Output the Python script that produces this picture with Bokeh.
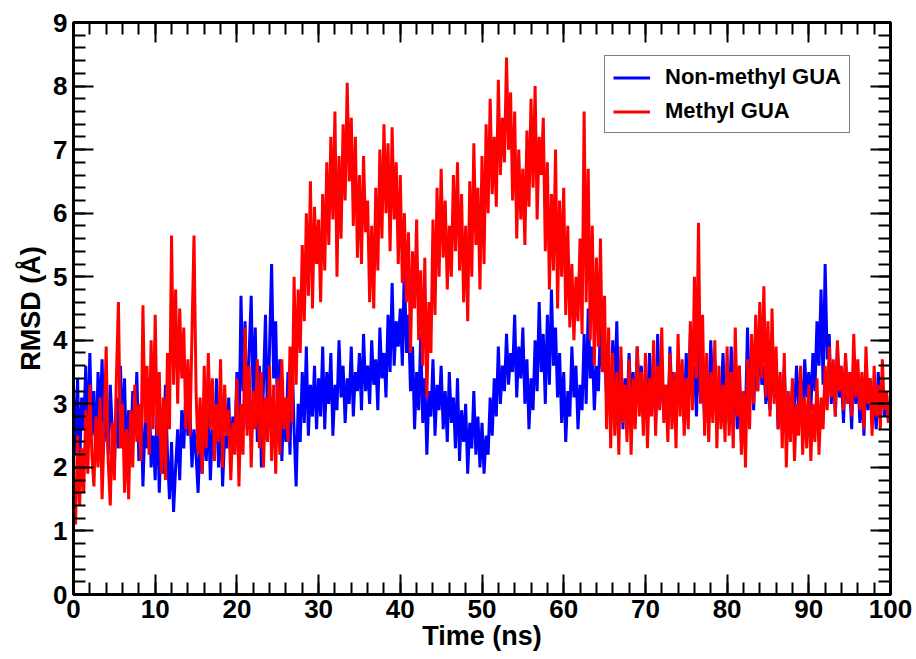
import numpy as np
from bokeh.plotting import figure
from bokeh.models import LinearAxis, SingleIntervalTicker, Legend, LegendItem, Range1d, CustomLabelingPolicy
from bokeh.embed import file_html
from bokeh.resources import INLINE

# Time grid (ns), sampled every 0.25 ns
time_ns = [i * 0.25 for i in range(401)]

# RMSD (Å), Non-methyl GUA (0.25 ns steps)
rmsd_nonmethyl = [
    3.3, 2.2, 3.4, 2.0, 3.1, 2.6, 3.6, 2.3, 3.8, 2.5, 3.2, 2.1, 3.5, 2.8, 3.7, 2.4, 3.0, 2.2, 3.3, 2.6,
    2.0, 3.1, 2.3, 3.6, 2.5, 3.4, 1.9, 2.9, 2.2, 3.2, 2.6, 3.5, 2.1, 3.0, 1.7, 2.7, 2.3, 3.4, 2.0, 2.5,
    1.8, 3.0, 1.6, 2.6, 1.9, 3.3, 2.2, 1.5, 2.4, 1.3, 2.0, 2.6, 1.8, 2.9, 2.3, 3.2, 2.5, 2.9, 2.0, 2.6,
    2.2, 1.6, 2.5, 1.9, 2.8, 2.1, 3.0, 1.8, 2.6, 2.2, 3.4, 2.0, 2.9, 1.7, 2.5, 2.3, 3.1, 2.1, 2.8, 2.4,
    3.5, 2.3, 4.7, 3.2, 4.3, 2.6, 3.8, 4.7, 3.0, 4.2, 2.4, 3.6, 2.0, 3.3, 4.4, 2.7, 3.9, 5.2, 3.4, 4.3,
    2.6, 3.7, 2.1, 3.0, 2.4, 3.5, 2.2, 3.8, 2.6, 1.7, 3.0, 2.4, 3.5, 2.7, 3.9, 2.5, 3.3, 2.8, 3.6, 2.6,
    3.4, 2.8, 3.9, 2.6, 3.5, 3.0, 3.8, 2.5, 3.3, 2.9, 4.0, 3.1, 3.6, 2.7, 3.4, 3.0, 3.9, 2.8, 3.5, 3.2,
    3.8, 2.9, 4.1, 3.2, 3.6, 3.0, 4.0, 3.3, 3.7, 2.9, 4.2, 3.4, 3.8, 3.1, 4.4, 3.5, 4.9, 3.6, 4.3, 3.9,
    4.5, 3.6, 5.2, 3.8, 4.4, 3.2, 3.9, 2.6, 3.5, 2.9, 4.1, 2.7, 3.4, 2.2, 3.2, 2.8, 3.7, 2.5, 3.3, 2.9,
    3.6, 2.6, 3.2, 2.4, 3.5, 2.7, 3.1, 2.3, 3.4, 2.1, 2.9, 2.4, 3.0, 1.9, 2.7, 2.3, 3.2, 2.2, 2.8, 2.0,
    2.7, 1.9, 2.5, 2.2, 3.1, 2.5, 3.4, 2.8, 3.9, 3.0, 3.6, 3.2, 4.1, 3.3, 3.8, 3.5, 4.4, 3.1, 3.9, 3.4,
    4.2, 3.0, 3.7, 2.6, 3.4, 2.9, 4.0, 3.2, 4.6, 3.5, 4.1, 3.0, 4.4, 3.3, 4.8, 3.6, 4.2, 3.1, 3.8, 2.7,
    3.5, 2.4, 3.2, 2.8, 3.9, 3.1, 3.6, 2.6, 3.3, 2.9, 4.1, 3.0, 4.5, 3.4, 3.9, 2.9, 3.6, 3.2, 4.3, 3.5,
    3.9, 3.1, 3.6, 2.7, 4.0, 3.2, 4.3, 2.9, 3.7, 2.6, 3.4, 2.9, 3.8, 3.0, 3.5, 2.7, 3.9, 3.1, 3.6, 2.8,
    3.4, 2.9, 3.8, 3.2, 3.5, 2.7, 4.1, 3.0, 3.6, 2.8, 3.3, 2.6, 3.9, 3.1, 3.5, 2.9, 3.7, 3.2, 3.4, 2.7,
    3.8, 3.0, 4.1, 3.3, 3.6, 2.8, 3.9, 3.1, 3.5, 2.7, 3.3, 2.9, 4.0, 3.2, 3.7, 2.8, 3.4, 3.0, 3.8, 2.9,
    3.5, 2.7, 3.9, 3.1, 3.4, 2.6, 3.6, 2.4, 3.2, 2.8, 4.2, 3.0, 3.7, 2.9, 3.9, 3.2, 4.1, 3.3, 3.6, 3.0,
    3.4, 2.9, 3.8, 3.1, 3.5, 2.6, 3.2, 2.8, 3.6, 2.5, 3.0, 2.7, 3.3, 2.9, 3.6, 3.0, 3.4, 2.8, 3.7, 3.1,
    3.5, 2.9, 3.8, 3.2, 4.3, 3.6, 4.8, 3.3, 5.2, 3.7, 4.1, 3.0, 3.6, 2.8, 3.9, 3.1, 3.4, 2.7, 3.7, 3.0,
    3.3, 2.6, 3.8, 3.0, 3.5, 2.7, 3.2, 2.5, 3.6, 2.9, 3.4, 2.7, 3.1, 2.6, 3.5, 2.9, 3.3, 2.8, 3.2, 2.7,
    3.0,
]

# RMSD (Å), Methyl GUA (0.25 ns steps)
rmsd_methyl = [
    1.8, 1.1, 2.5, 1.4, 2.3, 1.6, 2.9, 1.9, 3.3, 2.2, 1.7, 2.8, 2.0, 3.1, 1.5, 2.6, 3.9, 2.1, 1.4, 2.7,
    1.8, 3.4, 4.6, 2.3, 3.0, 1.6, 2.6, 1.5, 2.9, 2.0, 3.3, 2.4, 3.0, 2.1, 4.55, 2.7, 3.6, 2.2, 4.0, 2.6,
    4.4, 2.5, 3.5, 1.9, 3.1, 1.8, 3.8, 2.6, 5.65, 3.3, 4.8, 3.0, 4.5, 3.4, 4.2, 2.6, 3.7, 2.5, 4.1, 5.65,
    3.2, 2.2, 3.1, 1.9, 3.6, 2.3, 3.8, 2.6, 3.4, 2.1, 3.0, 2.4, 3.7, 2.0, 3.3, 2.5, 2.9, 1.8, 2.7, 2.2,
    3.4, 1.7, 3.0, 2.2, 4.2, 2.5, 3.6, 2.0, 3.2, 2.6, 3.7, 2.3, 3.5, 2.0, 3.1, 2.4, 3.6, 2.1, 3.3, 1.9,
    3.4, 2.2, 3.7, 2.6, 3.1, 2.4, 3.9, 2.7, 5.0, 3.3, 4.8, 3.8, 5.5, 4.3, 6.0, 4.7, 6.5, 4.5, 6.1, 5.2,
    5.9, 4.6, 6.3, 5.1, 6.8, 5.5, 7.2, 5.9, 7.6, 5.0, 6.9, 5.6, 7.4, 6.2, 8.05, 6.5, 7.5, 5.8, 7.2, 5.3,
    6.6, 5.2, 6.9, 5.7, 6.2, 4.6, 5.8, 4.5, 6.4, 5.1, 7.0, 5.6, 7.4, 6.0, 7.1, 5.4, 7.35, 5.9, 6.8, 5.2,
    6.6, 4.9, 6.0, 4.6, 5.7, 3.8, 5.4, 4.5, 5.9, 4.0, 5.1, 3.6, 5.3, 3.1, 4.6, 3.8, 5.9, 4.4, 6.4, 5.0,
    6.7, 5.3, 6.2, 4.8, 5.8, 5.0, 6.6, 5.4, 6.8, 5.1, 6.3, 4.6, 5.8, 4.3, 6.5, 5.0, 7.1, 5.5, 6.4, 4.8,
    6.9, 5.2, 7.4, 6.0, 7.8, 6.3, 7.2, 6.1, 8.1, 6.6, 7.5, 6.8, 8.45, 7.0, 7.9, 6.2, 7.6, 5.6, 7.0, 5.9,
    6.7, 5.5, 7.3, 6.1, 7.8, 6.4, 8.0, 5.9, 7.2, 6.6, 7.5, 5.4, 6.8, 4.8, 6.3, 5.1, 7.0, 4.5, 6.2, 5.0,
    6.4, 4.4, 5.8, 4.2, 5.2, 4.0, 5.0, 4.3, 5.6, 4.1, 7.6, 4.6, 6.7, 4.0, 5.8, 3.6, 5.3, 3.9, 5.6, 3.5,
    4.7, 2.6, 4.2, 2.3, 3.8, 2.5, 3.5, 2.2, 3.9, 2.7, 3.3, 2.4, 3.7, 2.2, 3.4, 2.6, 3.9, 2.8, 3.5, 2.5,
    3.8, 2.3, 3.4, 2.8, 4.0, 2.5, 3.6, 2.9, 4.2, 2.7, 3.3, 2.4, 3.8, 2.6, 3.5, 2.3, 4.1, 2.8, 3.7, 2.5,
    3.4, 2.6, 4.3, 2.9, 5.0, 3.4, 5.85, 3.0, 4.4, 2.5, 3.8, 2.4, 3.5, 2.7, 4.0, 2.3, 3.6, 2.6, 3.3, 2.4,
    3.9, 2.5, 3.5, 2.3, 4.2, 2.8, 3.6, 2.2, 3.2, 2.0, 3.7, 2.6, 4.1, 3.0, 4.4, 3.2, 4.6, 3.4, 4.85, 3.1,
    4.3, 2.8, 4.5, 3.0, 3.9, 2.6, 3.5, 2.3, 3.8, 2.0, 3.2, 2.4, 3.4, 2.1, 3.0, 2.5, 3.6, 2.2, 3.1, 2.3,
    3.3, 2.1, 3.0, 2.4, 3.4, 2.2, 3.1, 2.6, 3.6, 2.9, 3.9, 3.1, 3.7, 2.8, 4.0, 3.2, 3.6, 2.9, 3.8, 3.0,
    3.5, 2.8, 4.1, 3.1, 3.7, 2.9, 3.5, 2.6, 3.9, 3.0, 3.4, 2.5, 3.6, 2.8, 3.3, 2.6, 3.7, 2.9, 3.2, 2.7,
    3.0,
]

series_names = ["Non-methyl GUA", "Methyl GUA"]
series_colors = ["#0000ff", "#ff0000"]

x_ticks_interval = 10
y_ticks_interval = 1

FONT = "Liberation Sans"

p = figure(
    frame_width=817, frame_height=572,
    x_range=Range1d(0, 100), y_range=Range1d(0, 9),
    output_backend="svg", toolbar_location=None,
    x_axis_location=None, y_axis_location=None,
    min_border_left=73, min_border_right=26, min_border_top=22, min_border_bottom=65,
)
p.background_fill_color = "white"
p.border_fill_color = "white"
p.outline_line_color = "black"
p.outline_line_width = 3
p.xgrid.visible = False
p.ygrid.visible = False


def style_axis(ax, labels=True):
    ax.axis_line_width = 3
    ax.axis_line_color = "black"
    ax.major_tick_in = 20
    ax.major_tick_out = 0
    ax.minor_tick_in = 12
    ax.minor_tick_out = 0
    ax.major_tick_line_width = 2
    ax.minor_tick_line_width = 2
    ax.major_label_text_font = FONT
    ax.major_label_text_font_style = "bold"
    ax.major_label_text_font_size = "26px"
    ax.major_label_text_color = "black"
    ax.axis_label_text_font = FONT
    ax.axis_label_text_font_style = "bold"
    ax.axis_label_text_font_size = "27px"
    ax.axis_label_text_color = "black"
    if not labels:
        # mirror axis: ticks only, no labels drawn
        ax.major_label_policy = CustomLabelingPolicy(code="return new Set()")
        ax.major_label_standoff = 0


xb = LinearAxis(ticker=SingleIntervalTicker(interval=x_ticks_interval, num_minor_ticks=5),
                axis_label="Time (ns)")
style_axis(xb)
xb.major_label_standoff = 5
xb.axis_label_standoff = 0
p.add_layout(xb, "below")

yl = LinearAxis(ticker=SingleIntervalTicker(interval=y_ticks_interval, num_minor_ticks=5),
                axis_label="RMSD (Å)")
style_axis(yl)
yl.major_label_standoff = 6
yl.axis_label_standoff = 4
p.add_layout(yl, "left")

xt = LinearAxis(ticker=SingleIntervalTicker(interval=x_ticks_interval, num_minor_ticks=5))
style_axis(xt, labels=False)
p.add_layout(xt, "above")

yr = LinearAxis(ticker=SingleIntervalTicker(interval=y_ticks_interval, num_minor_ticks=5))
style_axis(yr, labels=False)
p.add_layout(yr, "right")

r_blue = p.line(time_ns, rmsd_nonmethyl, line_color=series_colors[0], line_width=3)
r_red = p.line(time_ns, rmsd_methyl, line_color=series_colors[1], line_width=3)

legend = Legend(
    items=[LegendItem(label=series_names[0], renderers=[r_blue]),
           LegendItem(label=series_names[1], renderers=[r_red])],
    location=(531, 461),
    label_text_font=FONT, label_text_font_style="bold", label_text_font_size="22px",
    label_text_color="black",
    glyph_width=37, glyph_height=23, label_height=23, label_standoff=15,
    padding=8, spacing=8, margin=0,
    border_line_color="black", border_line_width=1.5,
    background_fill_color="white", background_fill_alpha=1.0,
)
p.add_layout(legend, "center")

open("out.html", "w").write(file_html(p, INLINE))
